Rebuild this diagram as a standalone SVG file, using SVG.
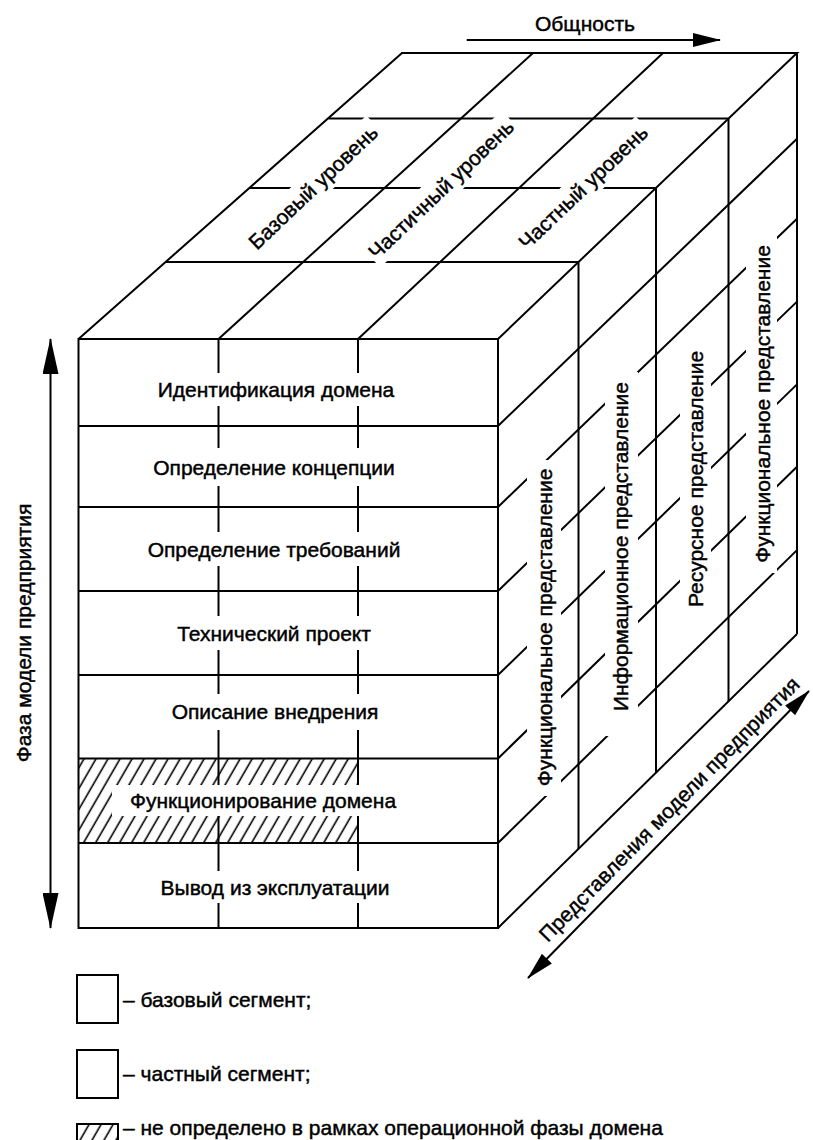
<svg xmlns="http://www.w3.org/2000/svg" width="813" height="1140" viewBox="0 0 813 1140">
<defs>
<style>
.ln{stroke:#000;stroke-width:2;fill:none}
.tx{font-family:"Liberation Sans",Arial,sans-serif;font-size:21px;fill:#000;stroke:#000;stroke-width:0.45;text-anchor:middle}
.lt{font-family:"Liberation Sans",Arial,sans-serif;font-size:21px;fill:#000;stroke:#000;stroke-width:0.45}
.bg{fill:#fff;stroke:none}
</style>
<pattern id="hatch" patternUnits="userSpaceOnUse" width="10.4" height="10" patternTransform="rotate(30)">
<line x1="5" y1="-1" x2="5" y2="11" stroke="#000" stroke-width="1.6"/>
</pattern>
<marker id="ah" viewBox="0 0 28 14" refX="27" refY="7" markerWidth="28" markerHeight="14" markerUnits="userSpaceOnUse" orient="auto-start-reverse"><path d="M0,0 L28,7 L0,14 z"/></marker>
<marker id="ahL" viewBox="0 0 36 16" refX="35" refY="8" markerWidth="36" markerHeight="16" markerUnits="userSpaceOnUse" orient="auto-start-reverse"><path d="M0,0 L36,8 L0,16 z"/></marker>
</defs>
<rect width="813" height="1140" fill="#fff"/>

<g id="cube">
<rect x="78.5" y="758.5" width="279.5" height="84.5" fill="url(#hatch)"/>
<g class="ln">
<rect x="78.5" y="339" width="419.5" height="589"/>
<line x1="78.5" y1="426" x2="498" y2="426"/>
<line x1="78.5" y1="507" x2="498" y2="507"/>
<line x1="78.5" y1="591" x2="498" y2="591"/>
<line x1="78.5" y1="675" x2="498" y2="675"/>
<line x1="78.5" y1="758.5" x2="498" y2="758.5"/>
<line x1="78.5" y1="843" x2="498" y2="843"/>
<line x1="218.5" y1="339" x2="218.5" y2="928"/>
<line x1="358" y1="339" x2="358" y2="928"/>
<polyline points="78.5,339 402,53 797,53 498,339"/>
<line x1="165.5" y1="262" x2="578.5" y2="262"/>
<line x1="249.5" y1="188" x2="656" y2="188"/>
<line x1="328.5" y1="118.5" x2="728.5" y2="118.5"/>
<line x1="218.5" y1="339" x2="533" y2="53"/>
<line x1="358" y1="339" x2="663" y2="53"/>
<line x1="797" y1="53" x2="797" y2="634"/>
<line x1="498" y1="928" x2="797" y2="634"/>
<line x1="578.5" y1="262" x2="578.5" y2="849"/>
<line x1="656" y1="188" x2="656" y2="773"/>
<line x1="728.5" y1="118.5" x2="728.5" y2="701.5"/>
<line x1="498" y1="426" x2="797" y2="138.8"/>
<line x1="498" y1="507" x2="797" y2="218.7"/>
<line x1="498" y1="591" x2="797" y2="301.6"/>
<line x1="498" y1="675" x2="797" y2="384.4"/>
<line x1="498" y1="758.5" x2="797" y2="466.8"/>
<line x1="498" y1="843" x2="797" y2="550.1"/>
</g>
</g>

<g id="label-backgrounds">
<rect class="bg" x="-88" y="-15" width="176" height="30" transform="translate(313,187) rotate(-43.6)"/>
<rect class="bg" x="-98" y="-15" width="196" height="30" transform="translate(441,189) rotate(-43.6)"/>
<rect class="bg" x="-87" y="-15" width="174" height="30" transform="translate(583,187) rotate(-43.6)"/>
<rect class="bg" x="150" y="373" width="252" height="33"/>
<rect class="bg" x="146" y="448" width="256" height="38"/>
<rect class="bg" x="146" y="532" width="256" height="34"/>
<rect class="bg" x="146" y="616" width="256" height="34"/>
<rect class="bg" x="146" y="694" width="256" height="36"/>
<rect class="bg" x="112" y="785" width="290" height="31"/>
<rect class="bg" x="146" y="871" width="256" height="32"/>
<rect class="bg" x="527" y="460" width="34" height="336"/>
<rect class="bg" x="605" y="372" width="33" height="364"/>
<rect class="bg" x="680" y="342" width="31" height="274"/>
<rect class="bg" x="746" y="235" width="31" height="338"/>
</g>

<g id="top-labels">
<text class="tx" x="313" y="187" dy=".36em" transform="rotate(-43.6 313 187)">Базовый уровень</text>
<text class="tx" x="441" y="189" dy=".36em" transform="rotate(-43.6 441 189)">Частичный уровень</text>
<text class="tx" x="583" y="187" dy=".36em" transform="rotate(-43.6 583 187)">Частный уровень</text>
</g>

<g id="phase-labels">
<text class="tx" x="276" y="389.5" dy=".36em">Идентификация домена</text>
<text class="tx" x="274" y="467" dy=".36em">Определение концепции</text>
<text class="tx" x="274" y="549" dy=".36em">Определение требований</text>
<text class="tx" x="274" y="633" dy=".36em">Технический проект</text>
<text class="tx" x="275" y="711.5" dy=".36em">Описание внедрения</text>
<text class="tx" x="263" y="800" dy=".36em">Функционирование домена</text>
<text class="tx" x="275" y="887" dy=".36em">Вывод из эксплуатации</text>
</g>

<g id="view-labels">
<text class="tx" x="544.5" y="627.5" dy=".36em" transform="rotate(-90 544.5 627.5)">Функциональное представление</text>
<text class="tx" x="620" y="546.5" dy=".36em" transform="rotate(-90 620 546.5)">Информационное представление</text>
<text class="tx" x="695" y="479" dy=".36em" transform="rotate(-90 695 479)">Ресурсное представление</text>
<text class="tx" x="762" y="404" dy=".36em" transform="rotate(-90 762 404)">Функциональное представление</text>
</g>

<g id="axes">
<line class="ln" x1="466.7" y1="40" x2="720" y2="40" marker-end="url(#ah)"/>
<text class="tx" x="585" y="23.7" dy=".36em">Общность</text>
<line class="ln" x1="50.5" y1="339" x2="50.5" y2="928" marker-start="url(#ahL)" marker-end="url(#ahL)"/>
<text class="tx" x="23" y="633" dy=".36em" transform="rotate(-90 23 633)">Фаза модели предприятия</text>
<line class="ln" x1="528" y1="978" x2="809" y2="691" marker-start="url(#ah)" marker-end="url(#ah)"/>
<text class="tx" x="669" y="809" dy=".36em" transform="rotate(-45.5 669 809)">Представления модели предприятия</text>
</g>

<g id="legend">
<rect class="ln" x="77" y="975" width="41" height="48" fill="#fff"/>
<text class="lt" x="123" y="1006.5">– базовый сегмент;</text>
<rect class="ln" x="77" y="1050" width="41" height="48" fill="#fff"/>
<text class="lt" x="123" y="1081">– частный сегмент;</text>
<rect x="77" y="1124" width="41" height="40" fill="url(#hatch)" stroke="#000" stroke-width="2"/>
<text class="lt" x="123" y="1135">– не определено в рамках операционной фазы домена</text>
</g>
</svg>
